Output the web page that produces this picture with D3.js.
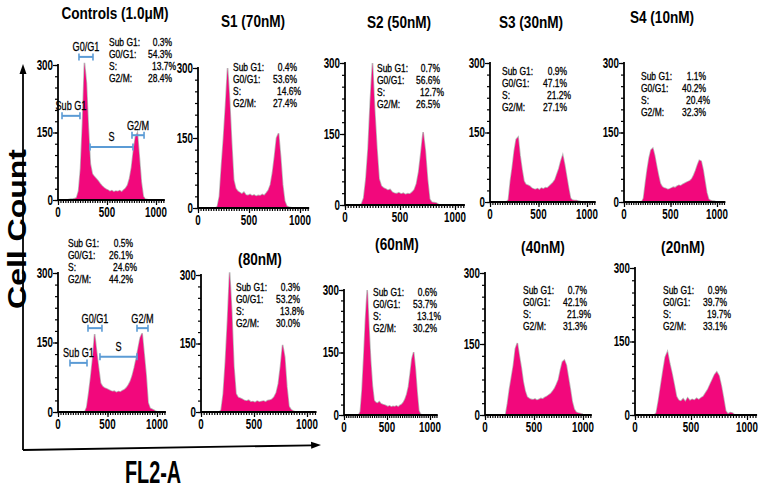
<!DOCTYPE html>
<html>
<head>
<meta charset="utf-8">
<script src="https://cdn.jsdelivr.net/npm/d3@7"></script>
<style>
  html, body { margin: 0; padding: 0; background: #fff; }
  svg { display: block; }
</style>
</head>
<body>
<svg id="chart" width="760" height="490"></svg>
<script>
// ---------------- DATA ----------------
const panelTitles = ["Controls (1.0\u03bcM)", "S1 (70nM)", "S2 (50nM)", "S3 (30nM)", "S4 (10nM)",
                     "", "(80nM)", "(60nM)", "(40nM)", "(20nM)"];
const phaseLabels = ["Sub G1:", "G0/G1:", "S:", "G2/M:"];
const subG1 = [0.3, 0.4, 0.7, 0.9, 1.1, 0.5, 0.3, 0.6, 0.7, 0.9];
const g0g1  = [54.3, 53.6, 56.6, 47.1, 40.2, 26.1, 53.2, 53.7, 42.1, 39.7];
const sPhase = [13.7, 14.6, 12.7, 21.2, 20.4, 24.6, 13.8, 13.1, 21.9, 19.7];
const g2m   = [28.4, 27.4, 26.5, 27.1, 32.3, 44.2, 30.0, 30.2, 31.3, 33.1];

const xTicks = [0, 500, 1000];
const yTicks = [0, 150, 300];
const binWidth = 20; // FL2-A channels per histogram bin (bins start at 0)

// cell counts per FL2-A bin (0-20, 20-40, ..., 980-1000)
const histCtrlTop = [0,0,0,0,0,1,2,2,3,5, 20,70,170,305,260,160,80,58,52,47,
                     42,36,31,27,24,22,19,21,18,20, 19,21,18,22,26,33,48,72,110,140,
                     149,95,40,8,2,1,0,0,0,0];
const histS1 = [0,0,0,0,0,0,0,0,0,3, 25,90,150,220,300,230,140,60,42,36,
                33,30,34,28,27,29,26,28,25,27, 26,29,27,32,38,50,75,110,150,160,
                110,50,15,4,2,1,0,0,0,0];
const histS2 = [0,0,0,0,0,0,0,2,15,55, 120,220,300,200,120,55,40,36,34,31,
                33,27,25,24,26,23,25,22,24,23, 27,32,45,70,110,154,115,55,12,6,
                5,4,1,0,0,0,0,0,0,0];
const histS3 = [0,0,0,0,0,0,0,0,0,5, 45,75,110,135,140,100,70,45,38,36,
                34,30,28,27,29,26,30,28,31,30, 34,38,42,48,60,72,88,101,80,55,
                30,8,4,3,3,2,1,0,0,0];
const histS4 = [0,0,0,0,0,0,0,0,0,0, 8,40,70,95,112,116,100,78,58,40,
                33,30,29,27,28,30,32,31,34,36, 35,38,40,42,44,46,50,58,68,80,
                90,88,70,45,20,6,3,2,2,0];
const histCtrlBottom = [0,0,0,0,0,0,0,0,0,0, 0,0,0,0,10,40,75,115,168,130,
                95,62,55,52,50,48,46,44,45,42, 44,43,46,48,52,58,66,78,95,115,
                138,160,170,125,80,20,8,6,4,1];
const hist80 = [0,0,0,0,0,0,0,0,0,4, 40,110,200,306,220,100,40,32,30,28,
                25,24,26,22,23,21,24,22,23,24, 22,25,26,28,33,42,62,100,147,120,
                55,12,5,2,0,0,0,0,0,0];
const hist60 = [0,0,0,0,0,0,0,0,0,8, 60,140,230,300,210,130,70,35,30,28,
                32,27,25,24,22,20,22,19,21,20, 22,19,23,25,30,38,50,68,100,135,
                151,110,55,10,2,0,0,0,0,0];
const hist40 = [0,0,0,0,0,0,0,0,0,0, 0,25,55,80,105,140,152,125,100,70,
                50,38,35,33,32,34,31,33,35,34, 37,39,42,45,50,56,65,75,95,112,
                116,105,80,55,28,12,6,4,3,2];
const hist20 = [0,0,0,0,0,0,0,0,0,4, 30,60,90,118,129,105,85,62,38,30,
                28,33,27,35,29,32,30,34,31,35, 38,45,52,62,72,82,88,80,60,35,
                8,2,5,4,0,0,0,0,0,0];

// gate annotations on the two control histograms (FL2-A ranges and count level)
const gateNames = ["Sub G1", "G0/G1", "S", "G2/M"];
const gateTopFrom  = [41, 214, 327, 755];
const gateTopTo    = [224, 357, 765, 878];
const gateTopLevel = [187, 318, 118, 144];
const gateBotFrom  = [121, 303, 424, 798];
const gateBotTo    = [293, 444, 798, 909];
const gateBotLevel = [106, 181, 119, 181];

const histograms = [histCtrlTop, histS1, histS2, histS3, histS4,
                    histCtrlBottom, hist80, hist60, hist40, hist20];

// ---------------- LAYOUT ----------------
// x0/x1: pixel of FL2-A 0 and 1000; yT/yB: pixel of count 300 and 0
const layout = [
  {x0: 58,  x1: 156, yT: 65,  yB: 200, tx: 115, ty: 13, sx: 109, sy: 42, vr: 172},
  {x0: 198, x1: 300, yT: 68,  yB: 208, tx: 253, ty: 21, sx: 233, sy: 67, vr: 297},
  {x0: 345, x1: 455, yT: 63,  yB: 205, tx: 399, ty: 22, sx: 377, sy: 68, vr: 440},
  {x0: 490, x1: 587, yT: 63,  yB: 202, tx: 531, ty: 22, sx: 502, sy: 71, vr: 567},
  {x0: 624, x1: 717, yT: 63,  yB: 202, tx: 662, ty: 17, sx: 641, sy: 76, vr: 706},
  {x0: 58,  x1: 157, yT: 273, yB: 412, tx: 0,   ty: 0,  sx: 68,  sy: 243, vr: 133},
  {x0: 201, x1: 307, yT: 275, yB: 412, tx: 260, ty: 259, sx: 236, sy: 287, vr: 300},
  {x0: 344, x1: 430, yT: 290, yB: 415, tx: 397, ty: 244, sx: 373, sy: 292, vr: 437},
  {x0: 485, x1: 583, yT: 273, yB: 415, tx: 543, ty: 247, sx: 523, sy: 290, vr: 587},
  {x0: 635, x1: 747, yT: 268, yB: 415, tx: 683, ty: 247, sx: 663, sy: 290, vr: 727}
];

const PINK = "#f2087c";
const BLUE = "#5b9bd5";
const FONT = "'Liberation Sans', Arial, sans-serif";

const svg = d3.select("#chart");
svg.append("rect").attr("width", 760).attr("height", 490).attr("fill", "#fff");

function addText(g, x, y, str, o) {
  return g.append("text")
    .attr("transform", `translate(${x},${y}) ${o.rot ? "rotate(" + o.rot + ")" : ""} scale(${o.sx},1)`)
    .attr("text-anchor", o.anchor || "start")
    .attr("dominant-baseline", "central")
    .style("font-family", FONT)
    .style("font-size", o.size + "px")
    .style("font-weight", o.weight || "normal")
    .attr("fill", "#000")
    .attr("stroke", o.stroke ? "#000" : "none")
    .attr("stroke-width", o.stroke || 0)
    .text(str);
}

function drawGates(g, x, y, from, to, level) {
  gateNames.forEach((name, i) => {
    const xa = x(from[i]), xb = x(to[i]), yy = y(level[i]);
    g.append("line").attr("x1", xa).attr("x2", xb).attr("y1", yy).attr("y2", yy)
      .attr("stroke", BLUE).attr("stroke-width", 2);
    [xa, xb].forEach(xx => g.append("line").attr("x1", xx).attr("x2", xx)
      .attr("y1", yy - 3.5).attr("y2", yy + 3.5).attr("stroke", BLUE).attr("stroke-width", 1.6));
    addText(g, (xa + xb) / 2, yy - 10, name, {size: 12, sx: 0.76, anchor: "middle", stroke: 0.25});
  });
}

histograms.forEach((hist, p) => {
  const L = layout[p];
  const x = d3.scaleLinear().domain([0, 1000]).range([L.x0, L.x1]);
  const y = d3.scaleLinear().domain([0, 300]).range([L.yB, L.yT]);
  const g = svg.append("g");

  const pts = hist.map((c, i) => ({fl: i * binWidth + binWidth / 2, c}));
  pts.unshift({fl: 0, c: hist[0]});
  pts.push({fl: hist.length * binWidth, c: hist[hist.length - 1]});

  const area = d3.area().x(d => x(d.fl)).y0(y(0)).y1(d => y(d.c));
  const line = d3.line().x(d => x(d.fl)).y(d => y(d.c));
  g.append("path").datum(pts).attr("d", line).attr("fill", "none")
    .attr("stroke", "#b8b8b8").attr("stroke-width", 1.6);
  g.append("path").datum(pts).attr("d", area).attr("fill", PINK);

  // axes: minor and major ticks
  const xAxisEnd = 1090;
  const xMinor = d3.axisBottom(x).tickValues(d3.range(0, xAxisEnd, 25)).tickSize(3).tickFormat("").tickSizeOuter(0);
  const xMajor = d3.axisBottom(x).tickValues(xTicks).tickSize(5).tickFormat("").tickSizeOuter(0);
  const yMinor = d3.axisLeft(y).tickValues(d3.range(0, 301, 25)).tickSize(3).tickFormat("").tickSizeOuter(0);
  const yMajor = d3.axisLeft(y).tickValues(yTicks).tickSize(5).tickFormat("").tickSizeOuter(0);
  [[xMinor, `translate(0,${L.yB})`], [xMajor, `translate(0,${L.yB})`],
   [yMinor, `translate(${L.x0},0)`], [yMajor, `translate(${L.x0},0)`]].forEach(([ax, tr]) => {
    const a = g.append("g").attr("transform", tr).call(ax);
    a.select(".domain").remove();
    a.selectAll("line").attr("stroke", "#000").attr("stroke-width", 1.2);
  });
  g.append("line").attr("x1", L.x0).attr("x2", x(xAxisEnd)).attr("y1", L.yB).attr("y2", L.yB)
    .attr("stroke", "#000").attr("stroke-width", 1.8);
  g.append("line").attr("x1", L.x0).attr("x2", L.x0).attr("y1", L.yB).attr("y2", y(300) - 1)
    .attr("stroke", "#000").attr("stroke-width", 1.8);

  xTicks.forEach(t => addText(g, x(t), L.yB + 12, String(t), {size: 14, sx: 0.7, weight: "bold", anchor: "middle"}));
  yTicks.forEach(t => addText(g, L.x0 - 5, y(t), String(t), {size: 14, sx: 0.7, weight: "bold", anchor: "end"}));

  if (panelTitles[p]) addText(g, L.tx, L.ty, panelTitles[p], {size: 17, sx: 0.8, weight: "bold", anchor: "middle"});

  const vals = [subG1[p], g0g1[p], sPhase[p], g2m[p]];
  phaseLabels.forEach((lab, i) => {
    const yy = L.sy + i * 12.1;
    addText(g, L.sx, yy, lab, {size: 10.6, sx: 0.8, stroke: 0.3});
    addText(g, L.vr + (i === 2 ? 4 : 0), yy, vals[i].toFixed(1) + "%", {size: 10.6, sx: 0.8, anchor: "end", stroke: 0.3});
  });

  if (p === 0) drawGates(g, x, y, gateTopFrom, gateTopTo, gateTopLevel);
  if (p === 5) drawGates(g, x, y, gateBotFrom, gateBotTo, gateBotLevel);
});

// outer arrow axes
const ax = svg.append("g");
ax.append("line").attr("x1", 23).attr("x2", 23).attr("y1", 450).attr("y2", 72)
  .attr("stroke", "#000").attr("stroke-width", 1.8);
ax.append("path").attr("d", "M23,64 L19.5,74 L26.5,74 Z").attr("fill", "#000");
ax.append("line").attr("x1", 23).attr("x2", 312).attr("y1", 450).attr("y2", 445.3)
  .attr("stroke", "#000").attr("stroke-width", 1.8);
ax.append("path").attr("d", "M321,445 L311,441.7 L311.2,448.7 Z").attr("fill", "#000");

addText(ax, 17, 229, "Cell Count", {size: 26, sx: 1.23, weight: "bold", anchor: "middle", rot: -90});
addText(ax, 153, 472, "FL2-A", {size: 32, sx: 0.62, weight: "bold", anchor: "middle"});
</script>
</body>
</html>
